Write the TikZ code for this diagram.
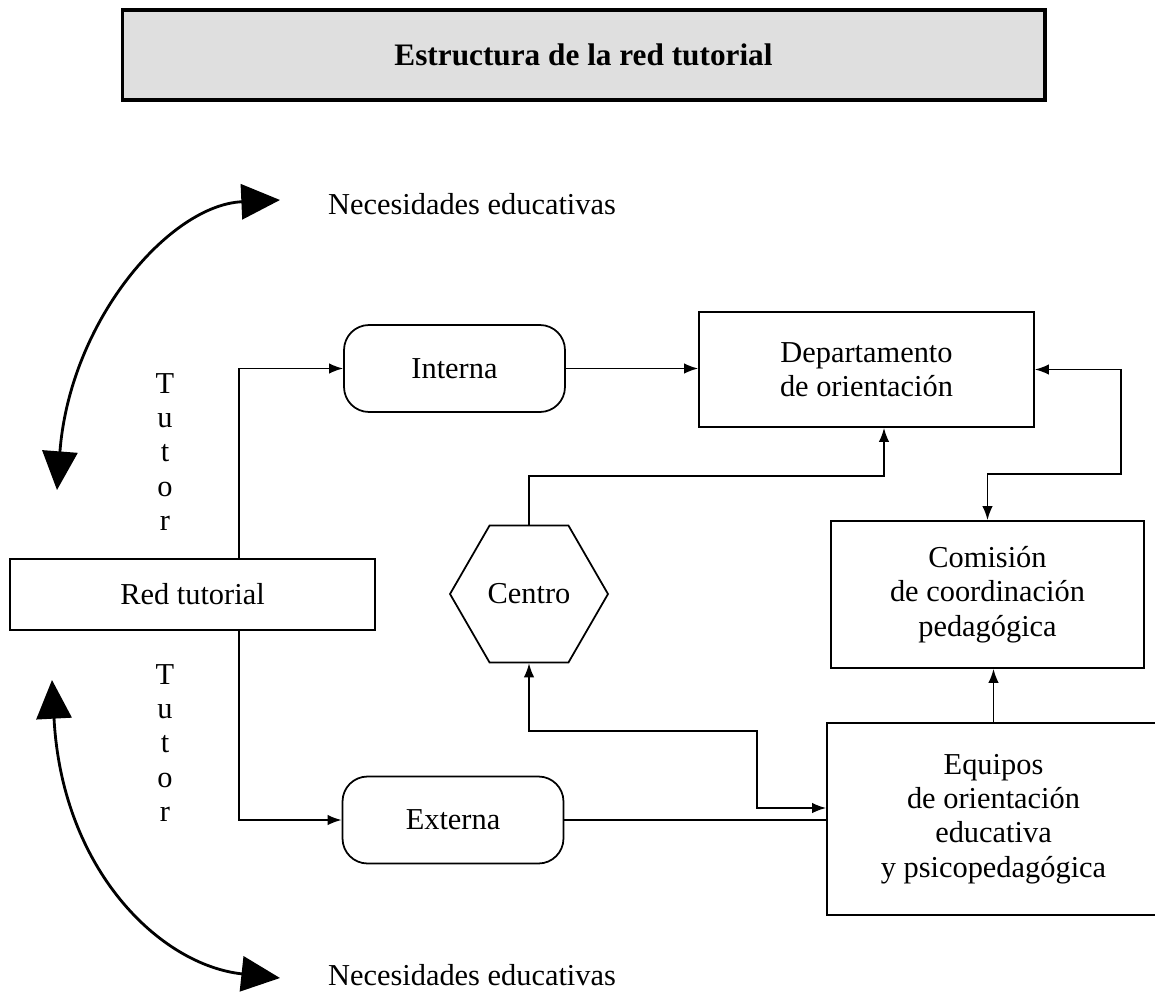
\documentclass[tikz,border=0pt]{standalone}
\usepackage{fontspec}
\setmainfont{Liberation Serif}
\usetikzlibrary{shapes.geometric,arrows.meta}

\begin{document}
\begin{tikzpicture}[x=0.02cm, y=-0.02cm,
        letra/.style={font=\fontsize{17.3}{19.5}\selectfont, align=center},
        caja/.style={letra, draw, line width=1pt},
        redondo/.style={caja, rounded corners=0.5cm, minimum width=4.42cm, minimum height=1.74cm},
        flecha/.style={line width=1pt, -{Latex[length=8pt,width=6pt]}},
        flechas/.style={line width=1pt, {Latex[length=8pt,width=6pt]}-{Latex[length=8pt,width=6pt]}},
        curva/.style={line width=1.6pt, {Triangle[length=22pt,width=20pt]}-{Triangle[length=22pt,width=20pt]}}]
            \useasboundingbox (0,0) rectangle (1155,993);
            \node[draw, line width=1.8pt, fill=gray!25, minimum width=18.46cm, minimum height=1.8cm,
                font=\bfseries\fontsize{17.8}{20}\selectfont] (titulo) at (583.5,55) {Estructura de la red tutorial};
            \node[letra] (nec1) at (472,204) {Necesidades educativas};
            \node[letra] (nec2) at (472,975) {Necesidades educativas};
            \node[letra] (tutor1) at (165,452) {T\\u\\t\\o\\r};
            \node[letra] (tutor2) at (165,743) {T\\u\\t\\o\\r};
            \node[caja, minimum width=7.3cm, minimum height=1.42cm] (red) at (192.5,594.5) {Red tutorial};
            \node[redondo] (interna) at (454.5,368.5) {Interna};
            \node[redondo] (externa) at (453,820) {Externa};
            \node[caja, regular polygon, regular polygon sides=6, minimum size=3.16cm, inner sep=0pt] (centro) at (529,594) {Centro};
            \node[caja, minimum width=6.7cm, minimum height=2.3cm] (depto) at (866.5,369.5) {Departamento\\de orientación};
            \node[caja, minimum width=6.26cm, minimum height=2.94cm] (comision) at (987.5,594.5) {Comisión\\de coordinación\\pedagógica};
            \node[caja, minimum width=6.66cm, minimum height=3.84cm] (equipos) at (993.5,819) {Equipos\\de orientación\\educativa\\y psicopedagógica};
            \coordinate (rama) at (239,594);
            \coordinate (c1) at (884,476);
            \coordinate (c2) at (1121,474);
            \coordinate (c3) at (757,731);
            \coordinate (c4) at (757,808);
            \coordinate (a1) at (57,490);
            \coordinate (a2) at (280,200);
            \coordinate (b1) at (52,680);
            \coordinate (b2) at (280,978);
            \draw[flecha] (red.north -| rama) |- (interna.west);
            \draw[flecha] (red.south -| rama) |- (externa.west);
            \draw[flecha] (interna.east) -- (interna.east -| depto.west);
            \draw[flecha] (centro.north) |- (c1) -- (c1 |- depto.south);
            \draw[flechas] (depto.east) -| (c2) -| (comision.north);
            \draw[flecha] (equipos.north) -- (equipos.north |- comision.south);
            \draw[flechas] (centro.south) |- (c3) -- (c4) -- (c4 -| equipos.west);
            \draw[line width=1pt] (externa.east) -- (externa.east -| equipos.west);
            \draw[curva] (a1) .. controls (70,320) and (170,205) .. (a2);
            \draw[curva] (b1) .. controls (62,870) and (160,965) .. (b2);
        \end{tikzpicture}
\end{document}
